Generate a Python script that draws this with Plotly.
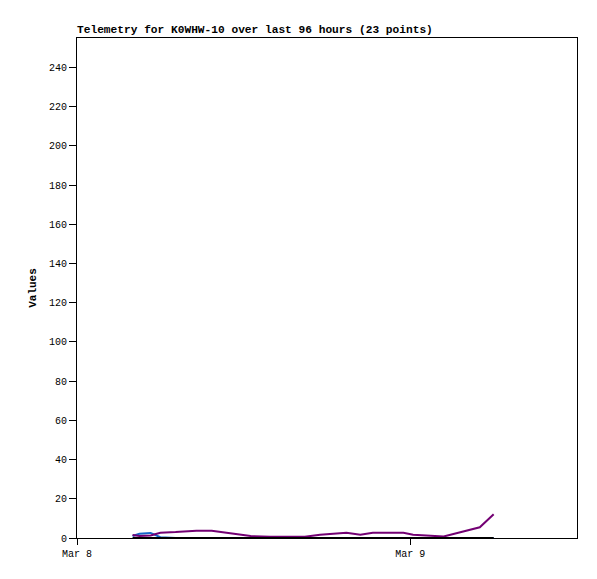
import plotly.graph_objects as go
import pandas as pd

# sample times, hours after Mar 8 00:00
hours = [4.0, 4.5, 5.3, 6.0, 7.1, 8.6, 9.7, 10.3, 11.0, 11.7, 12.5, 13.9,
         15.3, 16.4, 17.5, 19.4, 20.4, 21.3, 23.5, 24.2, 26.4, 29.0, 30.0]
times = pd.Timestamp("2024-03-08") + pd.to_timedelta(hours, unit="h")

purple_vals = [1.5, 1.0, 1.3, 2.7, 3.0, 3.7, 3.7, 3.1, 2.5, 1.7, 1.0, 0.6,
               0.4, 0.6, 1.7, 2.7, 1.7, 2.7, 2.7, 1.7, 0.8, 5.5, 12.1]
blue_vals = [1.0, 2.2, 2.6, 0.4] + [0.0] * 19
black_vals = [0.0] * 23

y_ticks = list(range(0, 241, 20))
mono = "Liberation Mono, DejaVu Sans Mono, monospace"

fig = go.Figure()
fig.add_trace(go.Scatter(x=times, y=blue_vals, mode="lines",
                         line=dict(color="#1466c8", width=2), name="ch2"))
fig.add_trace(go.Scatter(x=times, y=purple_vals, mode="lines",
                         line=dict(color="#730073", width=2), name="ch1"))
fig.add_trace(go.Scatter(x=times, y=black_vals, mode="lines",
                         line=dict(color="#000000", width=2), name="ch3"))

# page body has an 8px margin, so the plot box is offset accordingly
fig.update_layout(
    width=597, height=579,
    margin=dict(l=69, r=28, t=30, b=49, autoexpand=False),
    paper_bgcolor="white", plot_bgcolor="white",
    showlegend=False,
    font=dict(family=mono, size=10, color="black"),
    annotations=[dict(text="<b>Telemetry for K0WHW-10 over last 96 hours (23 points)</b>",
                      xref="paper", yref="paper", x=0, y=1, xanchor="left",
                      yanchor="bottom", showarrow=False, xshift=-2,
                      font=dict(family=mono, size=11.2))],
)
fig.update_xaxes(
    range=["2024-03-08 00:00", "2024-03-09 12:00"],
    tickvals=["2024-03-08", "2024-03-09"], ticktext=["Mar 8", "Mar 9"],
    showgrid=False, zeroline=False, showline=True, linecolor="black",
    linewidth=1, mirror=True, ticks="outside", ticklen=6, tickcolor="black",
    tickwidth=1, automargin=False,
)
fig.update_yaxes(
    range=[0, 255], tickvals=y_ticks,
    title=dict(text="<b>Values</b>", standoff=10, font=dict(size=11)),
    showgrid=False, zeroline=False, showline=True, linecolor="black",
    linewidth=1, mirror=True, ticks="outside", ticklen=7, tickcolor="black",
    tickwidth=1, automargin=False,
)

fig.write_html("out.html")
